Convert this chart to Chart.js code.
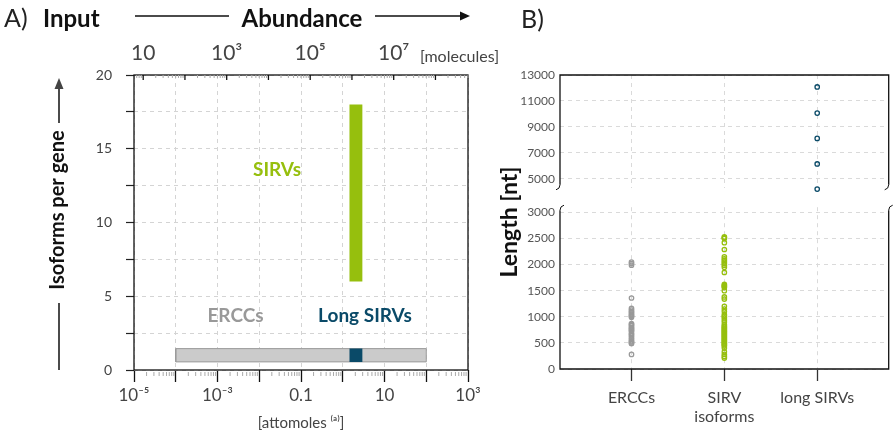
<!DOCTYPE html>
<html>
<head>
<meta charset="utf-8">
<script src="https://cdn.jsdelivr.net/npm/chart.js@4.4.1/dist/chart.umd.min.js"></script>
<style>
  body { margin: 0; background: #fff; }
  #wrap { position: relative; width: 894px; height: 432px; overflow: hidden; font-family: Lato, 'Open Sans', sans-serif; }
  .box { position: absolute; }
  #labelB { position: absolute; left: 521px; top: 3px; font-size: 25px; color: #222; }
  #lengthTitle { position: absolute; left: 508px; top: 222px; transform: translate(-50%, -50%) rotate(-90deg);
                 white-space: nowrap; font-weight: bold; font-size: 23px; color: #111; }
</style>
</head>
<body>
<div id="wrap">
  <div class="box" style="left:0;top:0;width:510px;height:432px"><canvas id="chartA" width="510" height="432"></canvas></div>
  <div class="box" style="left:490px;top:0;width:404px;height:200px"><canvas id="chartBTop" width="404" height="200"></canvas></div>
  <div class="box" style="left:490px;top:195px;width:404px;height:237px"><canvas id="chartBBottom" width="404" height="237"></canvas></div>
  <div id="labelB">B)</div>
  <div id="lengthTitle">Length [nt]</div>
</div>
<script>
// ---- Panel A data ----
const groups = ['ERCCs', 'SIRVs', 'Long SIRVs'];
const abundanceFrom = [1e-4, 1.45, 1.45];      // attomoles
const abundanceTo = [100, 2.95, 2.95];
const isoformsFrom = [1, 6, 1];
const isoformsTo = [1, 18, 1];
const attomoleTicks = [1e-5, 1e-4, 1e-3, 1e-2, 0.1, 1, 10, 100, 1e3];
const attomoleLabels = ['10⁻⁵', '', '10⁻³', '', '0.1', '', '10', '', '10³'];
const moleculeTicks = [10, 1e3, 1e5, 1e7];
const moleculeLabels = ['10', '10³', '10⁵', '10⁷'];
const moleculesPerAttomole = 602214;

// ---- Panel B data ----
const lengthCategories = ['ERCCs', ['SIRV', 'isoforms'], 'long SIRVs'];
const erccLengths = [2050, 2020, 1990, 1360, 1160, 1130, 1100, 1080, 1050, 1030, 1010, 990,
  870, 850, 830, 800, 780, 760, 740, 720, 680, 660, 630, 600, 570, 540, 520, 500, 490, 280];
const sirvLengths = [2530, 2515, 2500, 2420, 2290, 2150, 2110, 2080, 2050, 2020, 1990, 1950, 1850,
  1620, 1600, 1580, 1560, 1500, 1380, 1340, 1200, 1150, 1100, 1040, 1010, 980, 940, 900,
  850, 820, 800, 780, 760, 740, 720, 700, 680, 660, 640, 620, 600, 580, 560, 540, 520, 500,
  480, 460, 440, 400, 330, 280, 240, 210];
const longSirvLengths = [12080, 10060, 8110, 6140, 4200];
const upperLengthTicks = [5000, 7000, 9000, 11000, 13000];
const lowerLengthTicks = [0, 500, 1000, 1500, 2000, 2500, 3000];

Chart.defaults.font.family = "Lato, 'Open Sans', sans-serif";
Chart.defaults.color = '#444';

const GREEN = '#96bf0d', BLUE = '#0a4a68', GREY = '#999999';
const groupFill = ['#cbcbcb', GREEN, BLUE];
const groupBorder = ['#9a9a9a', GREEN, BLUE];
const halfBar = 0.45;

// rectangles built from the ranges; the grey ERCC bar sits behind the others
const rectSets = groups.map((g, i) => {
  const x0 = abundanceFrom[i], x1 = abundanceTo[i];
  let y0 = isoformsFrom[i], y1 = isoformsTo[i];
  if (y0 === y1) { y0 -= halfBar; y1 += halfBar; }
  return {
    type: 'line',
    label: g,
    order: i === 0 ? 2 : 1,
    data: [{x: x0, y: y0}, {x: x1, y: y0}, {x: x1, y: y1}, {x: x0, y: y1}, {x: x0, y: y0}],
    borderColor: groupBorder[i],
    borderWidth: i === 0 ? 1 : 0,
    backgroundColor: groupFill[i],
    fill: 'shape',
    pointRadius: 0,
    tension: 0
  };
});

const decorA = {
  id: 'decorA',
  afterDraw(chart) {
    const {ctx, chartArea: a, scales} = chart;
    const xs = scales.x, xt = scales.xTop;
    ctx.save();
    // frame
    ctx.strokeStyle = '#111';
    ctx.lineWidth = 1.3;
    ctx.strokeRect(a.left, a.top, a.right - a.left, a.bottom - a.top);
    // minor ticks bottom
    ctx.lineWidth = 1;
    ctx.strokeStyle = '#aaa';
    for (let d = -5; d < 3; d++) {
      for (let m = 2; m < 10; m++) {
        const px = xs.getPixelForValue(m * Math.pow(10, d));
        ctx.beginPath(); ctx.moveTo(px, a.bottom + 2); ctx.lineTo(px, a.bottom + 6); ctx.stroke();
      }
    }
    // top ticks (inward)
    for (let d = 0; d < 9; d++) {
      for (let m = 1; m < 10; m++) {
        const v = m * Math.pow(10, d);
        if (v < xt.min || v > xt.max) continue;
        const px = xt.getPixelForValue(v);
        ctx.strokeStyle = m === 1 ? '#111' : '#aaa';
        ctx.lineWidth = m === 1 ? 1.3 : 1;
        ctx.beginPath(); ctx.moveTo(px, a.top); ctx.lineTo(px, a.top + (m === 1 ? 5 : 3)); ctx.stroke();
      }
    }
    // header
    ctx.fillStyle = '#222';
    ctx.textBaseline = 'alphabetic';
    ctx.textAlign = 'left';
    ctx.font = "25px Lato";
    ctx.fillText('A)', 4, 27);
    ctx.fillStyle = '#111';
    ctx.font = "bold 24px Lato";
    ctx.fillText('Input', 43, 27);
    ctx.textAlign = 'center';
    ctx.fillText('Abundance', 302, 27);
    ctx.strokeStyle = '#111';
    ctx.lineWidth = 1.5;
    ctx.beginPath(); ctx.moveTo(135, 16); ctx.lineTo(229, 16); ctx.moveTo(375, 16); ctx.lineTo(462, 16); ctx.stroke();
    ctx.beginPath(); ctx.moveTo(470, 16); ctx.lineTo(460, 11.5); ctx.lineTo(460, 20.5); ctx.closePath(); ctx.fill();
    // [molecules]
    ctx.font = "16px Lato";
    ctx.fillStyle = '#444';
    ctx.textAlign = 'left';
    ctx.fillText('[molecules]', 420, 62);
    // left title
    ctx.save();
    ctx.translate(58, 210);
    ctx.rotate(-Math.PI / 2);
    ctx.font = "bold 20px Lato";
    ctx.fillStyle = '#111';
    ctx.textAlign = 'center';
    ctx.textBaseline = 'middle';
    ctx.fillText('Isoforms per gene', 0, 0);
    ctx.restore();
    ctx.beginPath(); ctx.moveTo(59, 123); ctx.lineTo(59, 88); ctx.moveTo(59, 303); ctx.lineTo(59, 370); ctx.stroke();
    ctx.beginPath(); ctx.moveTo(59, 78); ctx.lineTo(54.5, 89); ctx.lineTo(63.5, 89); ctx.closePath(); ctx.fill();
    ctx.restore();
  },
  afterDatasetsDraw(chart) {
    const {ctx, scales} = chart;
    const xs = scales.x, ys = scales.y;
    ctx.save();
    ctx.textAlign = 'center';
    ctx.textBaseline = 'middle';
    ctx.font = "bold 19px Lato";
    ctx.fillStyle = GREEN;
    ctx.fillText('SIRVs', xs.getPixelForValue(0.0266), ys.getPixelForValue(13.6));
    ctx.fillStyle = GREY;
    ctx.fillText('ERCCs', xs.getPixelForValue(0.0027), ys.getPixelForValue(3.7));
    ctx.fillStyle = BLUE;
    ctx.fillText('Long SIRVs', xs.getPixelForValue(3.4), ys.getPixelForValue(3.7));
    ctx.restore();
  }
};

new Chart(document.getElementById('chartA'), {
  type: 'line',
  data: { datasets: rectSets },
  options: {
    responsive: false,
    animation: false,
    layout: { padding: { left: 0, top: 0, right: 42, bottom: 0 } },
    plugins: { legend: { display: false }, tooltip: { enabled: false } },
    scales: {
      x: {
        type: 'logarithmic',
        position: 'bottom',
        min: 1e-5,
        max: 1e3,
        afterBuildTicks: s => { s.ticks = attomoleTicks.map(v => ({ value: v })); },
        afterFit: s => { s.height = 62; },
        ticks: { autoSkip: false, maxRotation: 0, padding: 3, color: '#444', font: { size: 17 },
                 callback: (v, i) => attomoleLabels[i] },
        grid: { color: '#d4d4d4', tickLength: 12, tickColor: '#111', tickWidth: 1.3 },
        border: { display: false, dash: [4, 4] },
        title: { display: true, text: '[attomoles ⁽ᵃ⁾]', color: '#444', font: { size: 15 }, padding: 0 }
      },
      xTop: {
        type: 'logarithmic',
        position: 'top',
        min: 1e-5 * moleculesPerAttomole,
        max: 1e3 * moleculesPerAttomole,
        afterBuildTicks: s => { s.ticks = moleculeTicks.map(v => ({ value: v })); },
        afterFit: s => { s.height = 75; },
        ticks: { autoSkip: false, maxRotation: 0, padding: 9, color: '#444', font: { size: 21 },
                 callback: (v, i) => moleculeLabels[i] },
        grid: { display: false, drawTicks: false },
        border: { display: false }
      },
      y: {
        type: 'linear',
        min: 0,
        max: 20,
        afterFit: s => { s.width = 134; },
        ticks: { stepSize: 2.5, padding: 14, color: '#444', font: { size: 14 },
                 callback: v => (v % 5 === 0 ? v : '') },
        grid: { color: '#d4d4d4', tickLength: 8, tickColor: '#222', tickWidth: 1.2 },
        border: { display: false, dash: [4, 4] }
      }
    }
  },
  plugins: [decorA]
});

// ---- Panel B: broken y axis drawn as two stacked charts ----
function frameB(part) {
  return {
    id: 'frame_' + part,
    afterDraw(chart) {
      const {ctx, chartArea: a} = chart;
      ctx.save();
      ctx.strokeStyle = '#111';
      ctx.lineWidth = 1.3;
      ctx.beginPath();
      if (part === 'top') {
        ctx.moveTo(a.left, a.bottom - 3); ctx.lineTo(a.left, a.top); ctx.lineTo(a.right, a.top); ctx.lineTo(a.right, a.bottom - 3);
      } else {
        ctx.moveTo(a.left, a.top + 3); ctx.lineTo(a.left, a.bottom); ctx.lineTo(a.right, a.bottom); ctx.lineTo(a.right, a.top + 3);
      }
      ctx.stroke();
      ctx.lineWidth = 1;
      [a.left, a.right].forEach(x => {
        ctx.beginPath();
        if (part === 'top') {
          ctx.moveTo(x, a.bottom - 3); ctx.quadraticCurveTo(x, a.bottom + 1, x - 4, a.bottom + 2);
        } else {
          ctx.moveTo(x, a.top + 3); ctx.quadraticCurveTo(x, a.top - 1, x + 4, a.top - 2);
        }
        ctx.stroke();
      });
      ctx.restore();
    }
  };
}

function pointSet(values, cat, color) {
  return {
    data: values.map(v => ({ x: cat, y: v })),
    borderColor: color,
    backgroundColor: 'rgba(255,255,255,0)',
    pointRadius: 2.2,
    pointBorderWidth: 1.3,
    clip: false
  };
}

const gridB = { color: '#dadada', drawTicks: false };

new Chart(document.getElementById('chartBTop'), {
  type: 'scatter',
  data: { datasets: [pointSet(longSirvLengths, 3, BLUE)] },
  options: {
    responsive: false,
    animation: false,
    layout: { padding: { left: 0, top: 75, right: 1, bottom: 8 } },
    plugins: { legend: { display: false }, tooltip: { enabled: false } },
    scales: {
      x: {
        type: 'linear', min: 0.23, max: 3.77,
        afterBuildTicks: s => { s.ticks = [1, 2, 3].map(v => ({ value: v })); },
        afterFit: s => { s.height = 0; },
        ticks: { display: false },
        grid: gridB,
        border: { display: false, dash: [4, 4] }
      },
      y: {
        type: 'linear', min: 4300, max: 13000,
        afterBuildTicks: s => { s.ticks = upperLengthTicks.map(v => ({ value: v })); },
        afterFit: s => { s.width = 70; },
        ticks: { padding: 5, color: '#555', font: { size: 12 }, callback: v => String(v) },
        grid: gridB,
        border: { display: false, dash: [4, 4] }
      }
    }
  },
  plugins: [frameB('top')]
});

new Chart(document.getElementById('chartBBottom'), {
  type: 'scatter',
  data: { datasets: [pointSet(erccLengths, 1, GREY), pointSet(sirvLengths, 2, GREEN)] },
  options: {
    responsive: false,
    animation: false,
    layout: { padding: { left: 0, top: 7, right: 1, bottom: 0 } },
    plugins: { legend: { display: false }, tooltip: { enabled: false } },
    scales: {
      x: {
        type: 'linear', min: 0.23, max: 3.77,
        afterBuildTicks: s => { s.ticks = [1, 2, 3].map(v => ({ value: v })); },
        afterFit: s => { s.height = 63; },
        ticks: { autoSkip: false, maxRotation: 0, padding: 7, color: '#444', font: { size: 16 },
                 callback: (v, i) => lengthCategories[i] },
        grid: { color: '#dadada', tickLength: 12, tickColor: '#333', tickWidth: 1.3 },
        border: { display: false, dash: [4, 4] }
      },
      y: {
        type: 'linear', min: 0, max: 3100,
        afterBuildTicks: s => { s.ticks = lowerLengthTicks.map(v => ({ value: v })); },
        afterFit: s => { s.width = 70; },
        ticks: { padding: 5, color: '#555', font: { size: 12 }, callback: v => String(v) },
        grid: gridB,
        border: { display: false, dash: [4, 4] }
      }
    }
  },
  plugins: [frameB('bottom')]
});
</script>
</body>
</html>
